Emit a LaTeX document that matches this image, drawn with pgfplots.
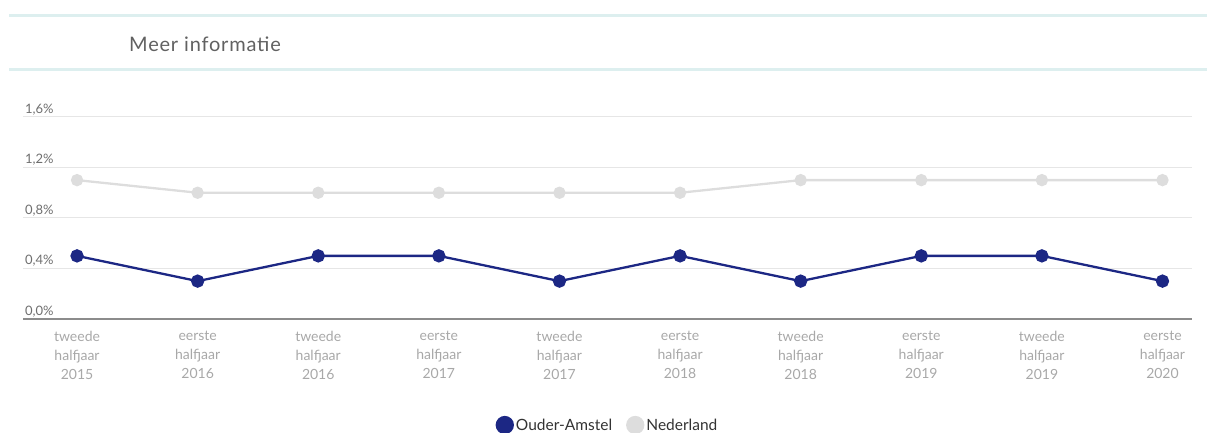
\documentclass[border=0pt]{standalone}
\usepackage{fontspec}
\setmainfont{Lato}
\usepackage{pgfplots}
\pgfplotsset{compat=1.18}
\definecolor{navy}{HTML}{1C2784}
\definecolor{nl}{HTML}{DDDDDD}
\definecolor{hdr}{HTML}{DDEFEF}
\definecolor{gridc}{HTML}{E6E6E6}
\definecolor{tickc}{HTML}{A8A8A8}
\definecolor{ylab}{HTML}{6E6E6E}
\begin{document}
\begin{tikzpicture}[x=1pt,y=1pt]
\path[use as bounding box] (0,0) rectangle (1207,433);
\draw[hdr, line width=3pt] (9,417) -- (1207,417);
\draw[hdr, line width=3pt] (9,363) -- (1207,363);
\node[anchor=west, inner sep=0pt, text=black!62, font=\fontsize{20}{23}\selectfont] at (129,389) {\addfontfeatures{LetterSpace=4}Meer informatie};
\begin{axis}[
  at={(23pt,114pt)}, anchor=south west, scale only axis,
  width=1169pt, height=202pt,
  xmin=-0.448, xmax=9.245, ymin=0, ymax=1.6,
  axis x line*=bottom, axis y line*=left,
  x axis line style={draw=black!45, line width=1.3pt, -},
  y axis line style={draw=none},
  major tick length=0pt,
  ytick={0,0.4,0.8,1.2,1.6},
  yticklabels={0{,}0\%,0{,}4\%,0{,}8\%,1{,}2\%,1{,}6\%},
  yticklabel style={anchor=south west, inner sep=2pt, text=ylab, font=\fontsize{13}{15}\selectfont},
  ymajorgrids, grid style={gridc, line width=1pt},
  xtick={0,...,9},
  xticklabels={{tweede\\halfjaar\\2015},{eerste\\halfjaar\\2016},{tweede\\halfjaar\\2016},{eerste\\halfjaar\\2017},{tweede\\halfjaar\\2017},{eerste\\halfjaar\\2018},{tweede\\halfjaar\\2018},{eerste\\halfjaar\\2019},{tweede\\halfjaar\\2019},{eerste\\halfjaar\\2020}},
  xticklabel style={align=center, text=tickc, yshift=-9pt, font=\fontsize{14}{19}\selectfont},
  legend style={at={(0.5,-0.525)}, anchor=center, draw=none, fill=none, legend columns=2,
     font=\fontsize{15.5}{17}\selectfont, text=black!80,
     /tikz/every even column/.append style={column sep=12pt}},
  clip=false,
]
\addplot[navy, line width=2.3pt, mark=*, mark size=5.5pt, mark options={fill=navy, draw=navy},
  legend image code/.code={\fill[navy] (8pt,0pt) circle (8pt);}]
  coordinates {(0,0.5) (1,0.3) (2,0.5) (3,0.5) (4,0.3) (5,0.5) (6,0.3) (7,0.5) (8,0.5) (9,0.3)};
\addplot[nl, line width=2.3pt, mark=*, mark size=5pt, mark options={fill=nl, draw=nl},
  legend image code/.code={\fill[nl] (8pt,0pt) circle (8pt);}]
  coordinates {(0,1.1) (1,1.0) (2,1.0) (3,1.0) (4,1.0) (5,1.0) (6,1.1) (7,1.1) (8,1.1) (9,1.1)};
\legend{Ouder-Amstel, Nederland}
\end{axis}
\end{tikzpicture}
\end{document}
